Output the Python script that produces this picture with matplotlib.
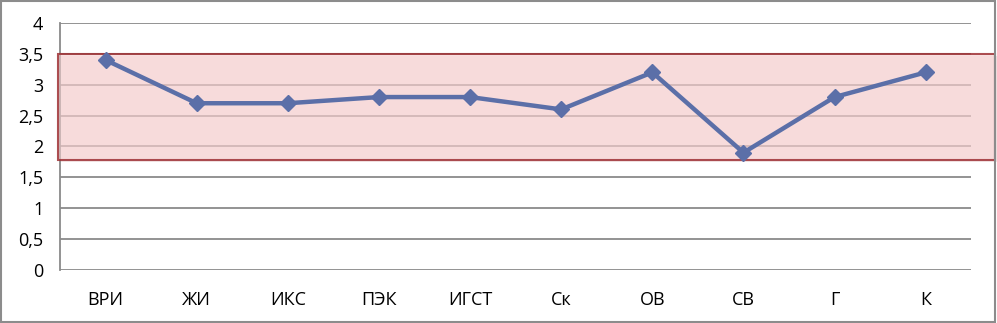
import matplotlib
matplotlib.use('Agg')
import matplotlib.pyplot as plt
import matplotlib.transforms as mtransforms
from matplotlib.patches import Rectangle
from matplotlib.ticker import FuncFormatter

categories = ['ВРИ', 'ЖИ', 'ИКС', 'ПЭК', 'ИГСТ', 'Ск', 'ОВ', 'СВ', 'Г', 'К']
values = [3.4, 2.7, 2.7, 2.8, 2.8, 2.6, 3.2, 1.9, 2.8, 3.2]
band_low = 1.78
band_high = 3.5
yticks = [0, 0.5, 1, 1.5, 2, 2.5, 3, 3.5, 4]

plt.rcParams['font.family'] = ['Open Sans', 'DejaVu Sans']

fig = plt.figure(figsize=(9.97, 3.23), dpi=100)
ax = fig.add_axes([0.0602, 0.164, 0.914, 0.765])

x = list(range(len(categories)))
ax.plot(x, values, color='#5b6fa8', linewidth=3.2, marker='D', markersize=8,
        markerfacecolor='#5b6fa8', markeredgecolor='#5b6fa8', zorder=4)

ax.set_xlim(-0.5, len(categories) - 0.5)
ax.set_ylim(0, 4)
ax.set_yticks(yticks)
ax.yaxis.set_major_formatter(FuncFormatter(lambda v, p: ('%g' % v).replace('.', ',')))
ax.set_xticks(x)
ax.set_xticklabels(categories)
ax.tick_params(axis='both', length=0, labelsize=13, colors='black')
ax.tick_params(axis='y', pad=12)
ax.tick_params(axis='x', pad=15)
ax.grid(axis='y', color='#8a8a8a', linewidth=1.3)
ax.set_axisbelow(True)
for s in ['top', 'right', 'bottom']:
    ax.spines[s].set_visible(False)
ax.spines['left'].set_color('#8a8a8a')
ax.spines['left'].set_linewidth(1.3)

# highlight band spanning the plot width
trans = mtransforms.blended_transform_factory(fig.transFigure, ax.transData)
shadow = Rectangle((58 / 997 + 0.002, band_low - 0.03), 937 / 997, band_high - band_low,
                   transform=trans, facecolor='#d8b0b0', edgecolor='none', alpha=0.3,
                   clip_on=False, zorder=2)
ax.add_patch(shadow)
band = Rectangle((58 / 997, band_low), 937 / 997, band_high - band_low,
                 transform=trans, facecolor='#fbd2d2', edgecolor='none',
                 alpha=0.55, clip_on=False, zorder=3)
ax.add_patch(band)
band_edge = Rectangle((58 / 997, band_low), 937 / 997, band_high - band_low,
                      transform=trans, fill=False, edgecolor='#9e3034',
                      linewidth=1.5, alpha=0.85, clip_on=False, zorder=3)
ax.add_patch(band_edge)

fig.patches.append(Rectangle((0.001, 0.002), 0.997, 0.995, transform=fig.transFigure,
                             fill=False, edgecolor='#8c8c8c', linewidth=1.5))

fig.savefig('out.png', dpi=100)
